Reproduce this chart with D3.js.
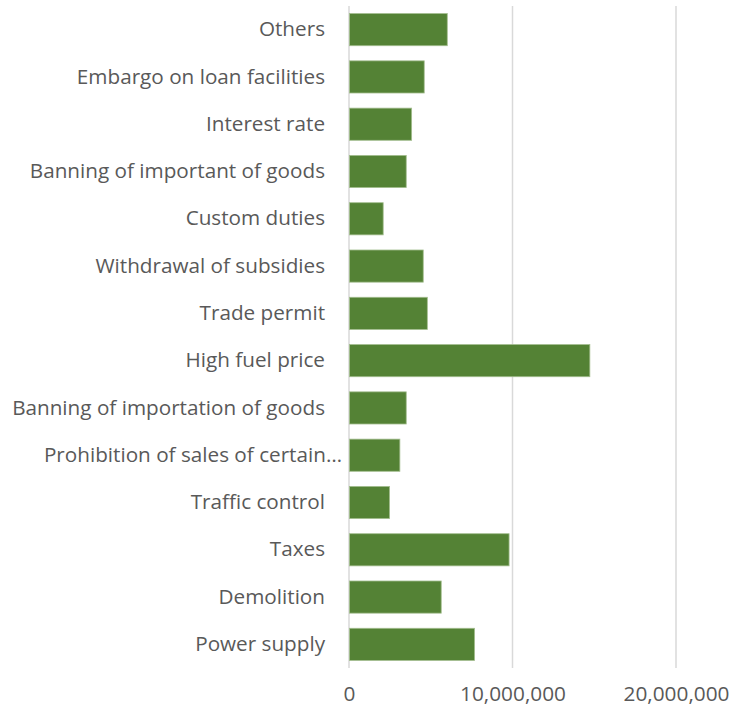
<!DOCTYPE html>
<html>
<head>
<meta charset="utf-8">
<script src="https://cdn.jsdelivr.net/npm/d3@7"></script>
<style>
  html, body { margin: 0; padding: 0; background: #ffffff; }
  svg { display: block; }
  text { font-family: "Open Sans", "Noto Sans", sans-serif; fill: #595959; }
</style>
</head>
<body>
<svg id="chart" width="731" height="709"></svg>
<script>
const categories = [
  "Others",
  "Embargo on loan facilities",
  "Interest rate",
  "Banning of important of goods",
  "Custom duties",
  "Withdrawal of subsidies",
  "Trade permit",
  "High fuel price",
  "Banning of importation of goods",
  "Prohibition of sales of certain\u2026",
  "Traffic control",
  "Taxes",
  "Demolition",
  "Power supply"
];
const values = [
  5980000, 4570000, 3800000, 3470000, 2060000, 4510000, 4760000,
  14700000, 3470000, 3080000, 2450000, 9760000, 5610000, 7650000
];
const tickValues = [0, 10000000, 20000000];

const svg = d3.select("#chart");
const margin = { left: 349, top: 6 };

const x = d3.scaleLinear().domain([0, 20000000]).range([margin.left, 676]);
const y = d3.scaleBand().domain(categories).range([margin.top, 668])
  .paddingInner(0.32).paddingOuter(0.16);

// gridlines
svg.append("g").selectAll("line").data(tickValues).join("line")
  .attr("x1", d => x(d)).attr("x2", d => x(d))
  .attr("y1", margin.top).attr("y2", 668)
  .attr("stroke", "#d9d9d9").attr("stroke-width", 1.5);

// bars
svg.append("g").selectAll("rect").data(categories).join("rect")
  .attr("x", x(0) + 0.5)
  .attr("y", d => y(d))
  .attr("width", (d, i) => x(values[i]) - x(0))
  .attr("height", y.bandwidth())
  .attr("fill", "#548235")
  .attr("stroke", "#a3bd8e")
  .attr("stroke-width", 0.8);

// fit font size to reference widths
function fitSize(str, target) {
  const t = svg.append("text").attr("font-size", 20).text(str);
  const w = t.node().getComputedTextLength();
  t.remove();
  return 20 * target / w;
}
const catSize = fitSize("Banning of importation of goods", 313);
const tickSize = fitSize("10,000,000", 106);

// category axis labels
const yAxis = d3.axisLeft(y).tickSize(0).tickPadding(0);
const gy = svg.append("g").attr("transform", "translate(325,0)").call(yAxis);
gy.select(".domain").remove();
gy.selectAll("text")
  .attr("font-size", catSize)
  .attr("font-family", null)
  .attr("fill", "#595959")
  .attr("dy", "0.32em")
  .attr("x", d => d.endsWith("\u2026") ? 17 : 0);

// value axis labels
const xAxis = d3.axisBottom(x).tickValues(tickValues).tickFormat(d3.format(",")).tickSize(0).tickPadding(0);
const gx = svg.append("g").attr("transform", "translate(0,701)").call(xAxis);
gx.select(".domain").remove();
gx.selectAll("text")
  .attr("font-size", tickSize)
  .attr("font-family", null)
  .attr("fill", "#595959")
  .attr("dy", 0);
</script>
</body>
</html>
